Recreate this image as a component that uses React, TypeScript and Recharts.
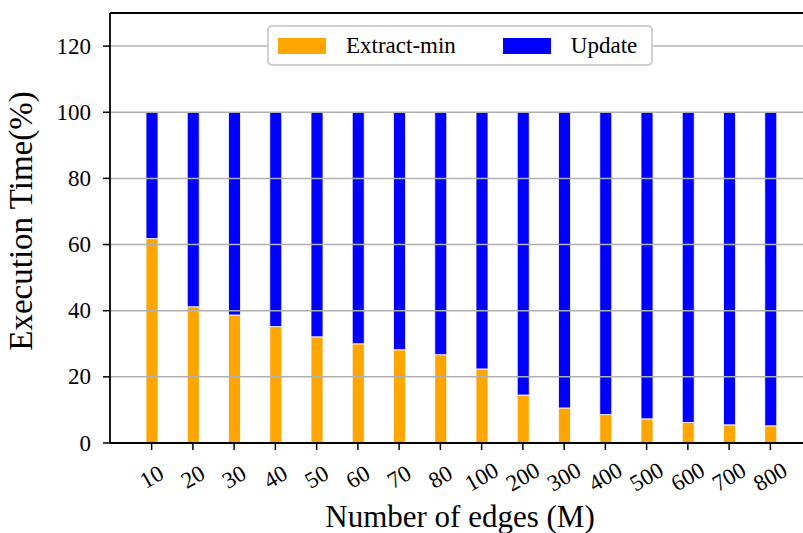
import React from 'react';
import { BarChart, Bar, XAxis, YAxis, Legend, ReferenceLine } from 'recharts';

const edges = ['10', '20', '30', '40', '50', '60', '70', '80', '100', '200', '300', '400', '500', '600', '700', '800'];
const extractMin = [61.8, 41.2, 38.7, 35.2, 32.1, 30.0, 28.2, 26.7, 22.4, 14.5, 10.6, 8.6, 7.3, 6.2, 5.5, 5.2];
const update = extractMin.map((v) => +(100 - v).toFixed(1));
const yTicks = [0, 20, 40, 60, 80, 100, 120];

const data = edges.map((e, i) => ({ edges: e, extract: extractMin[i], update: update[i] }));

const FONT = 'Liberation Serif';

// rotated category labels, centred under the tick like matplotlib rotation=30
const EdgeTick = (props: any) => {
  const { x, y, payload } = props;
  return (
    <g transform={`translate(${x},${y + 25}) rotate(-30)`}>
      <text x={0} y={0} textAnchor="middle" dominantBaseline="central" style={{ fontSize: 23, fontFamily: FONT }} fill="#000">
        {payload.value}
      </text>
    </g>
  );
};

const PctTick = (props: any) => {
  const { x, y, payload } = props;
  return (
    <text x={x} y={y} textAnchor="end" dominantBaseline="central" style={{ fontSize: 23, fontFamily: FONT }} fill="#000">
      {payload.value}
    </text>
  );
};

const LegendBox = (props: any) => {
  const { payload } = props;
  return (
    <div
      style={{
        display: 'flex',
        alignItems: 'center',
        background: '#fff',
        border: '2px solid #d0d0d0',
        borderRadius: 5,
        width: 382,
        height: 37,
        boxSizing: 'content-box',
        fontFamily: FONT,
        fontSize: 23,
        color: '#000',
      }}
    >
      {(payload || []).map((p: any, i: number) => (
        <div key={p.value} style={{ display: 'flex', alignItems: 'center', marginLeft: i === 0 ? 9 : 47 }}>
          <span style={{ display: 'inline-block', width: 48, height: 16, background: p.color }} />
          <span style={{ marginLeft: 20 }}>{p.value}</span>
        </div>
      ))}
    </div>
  );
};

export default function App() {
  return (
    <div style={{ position: 'absolute', left: 0, top: 0, width: 803, height: 533, overflow: 'hidden', background: '#fff' }}>
      <BarChart width={820} height={533} data={data} margin={{ top: 13, right: 8, left: 0, bottom: 0 }}>
        <XAxis
          dataKey="edges"
          height={90}
          padding={{ left: 21, right: 21 }}
          tick={<EdgeTick />}
          tickSize={7}
          tickLine={{ stroke: '#000', strokeWidth: 1.5 }}
          axisLine={{ stroke: '#000', strokeWidth: 1.8 }}
          interval={0}
          label={() => (
            <text x={460} y={527} textAnchor="middle" style={{ fontSize: 31, fontFamily: FONT }} fill="#000">
              Number of edges (M)
            </text>
          )}
        />
        <YAxis
          width={110}
          domain={[0, 130]}
          ticks={yTicks}
          allowDataOverflow
          tickSize={7}
          tickMargin={12}
          tickLine={{ stroke: '#000', strokeWidth: 1.5 }}
          axisLine={{ stroke: '#000', strokeWidth: 1.8 }}
          tick={<PctTick />}
          label={() => (
            <text transform="translate(32,221) rotate(-90)" textAnchor="middle" style={{ fontSize: 33, fontFamily: FONT }} fill="#000">
              Execution Time(%)
            </text>
          )}
        />
        <Bar dataKey="extract" name="Extract-min" stackId="a" fill="#FFA500" stroke="#fff" strokeWidth={0.8} barSize={12} isAnimationActive={false} />
        <Bar dataKey="update" name="Update" stackId="a" fill="#0000FF" stroke="#fff" strokeWidth={0.8} barSize={12} isAnimationActive={false} />
        {yTicks.slice(1).map((t) => (
          <ReferenceLine key={t} y={t} stroke="#b0b0b0" strokeWidth={1.5} />
        ))}
        <ReferenceLine y={130} stroke="#000" strokeWidth={1.8} />
        <Legend
          layout="horizontal"
          verticalAlign="middle"
          align="center"
          content={<LegendBox />}
          wrapperStyle={{ position: 'absolute', left: 267, top: 25, width: 'auto' }}
        />
      </BarChart>
    </div>
  );
}
